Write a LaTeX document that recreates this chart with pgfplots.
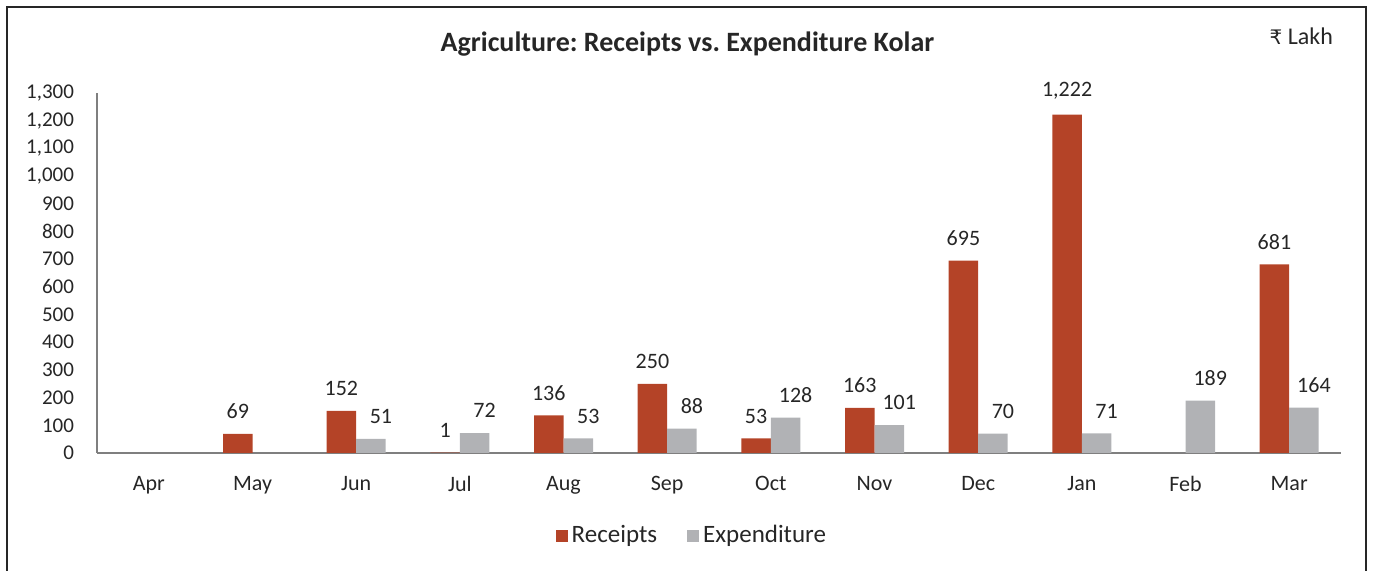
\documentclass[border=0pt]{standalone}
\usepackage{fontspec}
\setmainfont{Carlito}
\newfontfamily\rupeefont{DejaVu Sans}
\usepackage{pgfplots}
\pgfplotsset{compat=1.18}
\definecolor{rcpt}{HTML}{B44327}
\definecolor{expd}{HTML}{B1B2B5}
\definecolor{axgray}{HTML}{7F7F7F}
\definecolor{txt}{HTML}{262626}

\begin{document}
\frenchspacing
\begin{tikzpicture}
% 1 px of the reference = 0.5pt
\useasboundingbox (0,0) rectangle (686.5pt,-285.5pt);
\draw[line width=1pt, black!85] (3.7pt,-300pt) -- (3.7pt,-3.7pt) -- (683.2pt,-3.7pt) -- (683.2pt,-300pt);
\node[font=\bfseries\fontsize{14}{16}\selectfont, text=txt] at (343.75pt,-22pt) {Agriculture: Receipts vs. Expenditure Kolar};
\node[anchor=east, font=\fontsize{12}{14}\selectfont, text=txt] at (670pt,-18pt) {{\rupeefont\fontsize{10}{12}\selectfont ₹} Lakh};
\begin{axis}[
  at={(48.5pt,-226.5pt)}, anchor=south west,
  scale only axis,
  width=622pt, height=180pt,
  ybar=0pt, bar width=14.75pt,
  xmin=-0.5, xmax=11.5,
  ymin=0, ymax=1300,
  xtick={0,...,11},
  xticklabels={Apr,May,Jun,Jul,Aug,Sep,Oct,Nov,Dec,Jan,Feb,Mar},
  ytick={0,100,...,1300},
  major tick length=0pt,
  axis x line*=bottom, axis y line*=left,
  axis line style={axgray, line width=0.8pt, -},
  /pgf/number format/.cd, 1000 sep={,}, assume math mode=true, /pgfplots/.cd,
  ticklabel style={font=\fontsize{11}{13}\selectfont, text=txt},
  xticklabel style={yshift=-8pt},
  yticklabel style={xshift=-8pt, font=\fontsize{10.5}{12}\selectfont},
  nodes near coords,
  every node near coord/.append style={font=\fontsize{11}{13}\selectfont, text=txt, yshift=4pt},
  legend style={at={(0.479,-0.23)}, anchor=center, draw=none, fill=none,
    legend columns=2, font=\fontsize{12.5}{14}\selectfont, text=txt,
    /tikz/every even column/.append style={column sep=13pt}},
  legend image code/.code={\fill[#1] (0pt,-3pt) rectangle (6pt,3pt);},
]
\addplot[fill=rcpt, draw=none] coordinates {
(1,69) (2,152) (3,1) (4,136) (5,250) (6,53) (7,163) (8,695) (9,1222) (11,681)
};
\addplot[fill=expd, draw=none, every node near coord/.append style={xshift=5pt}] coordinates {
(2,51) (3,72) (4,53) (5,88) (6,128) (7,101) (8,70) (9,71) (10,189) (11,164)
};
\legend{Receipts,Expenditure}
\end{axis}
\end{tikzpicture}
\end{document}
